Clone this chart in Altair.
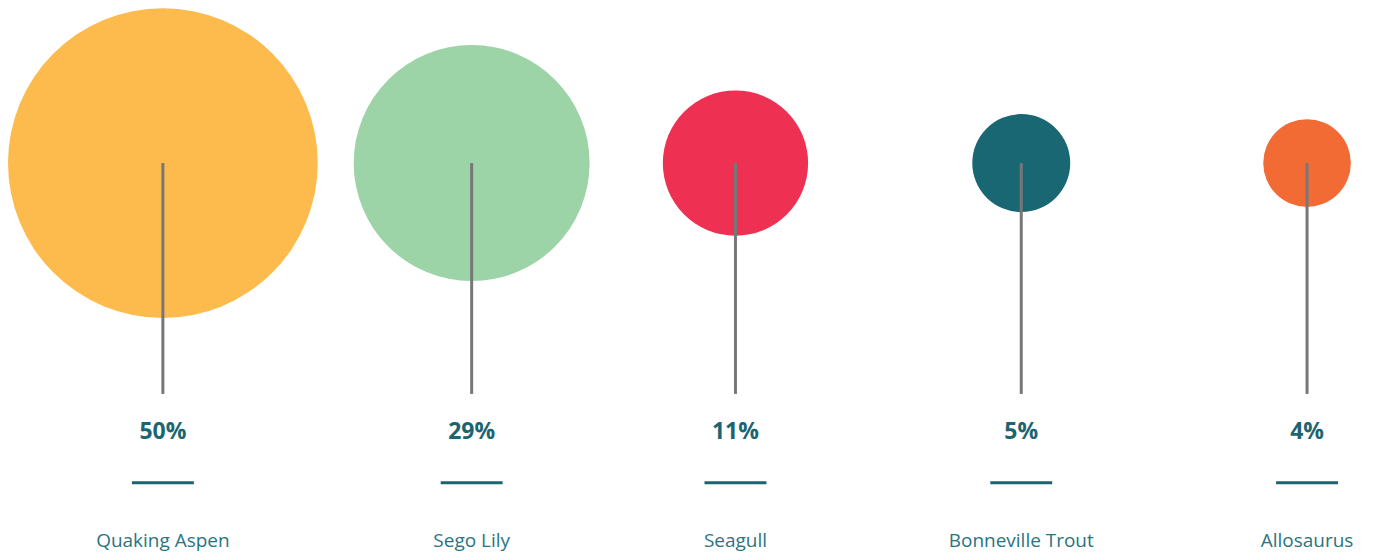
import altair as alt
import pandas as pd

categories = ["Quaking Aspen", "Sego Lily", "Seagull", "Bonneville Trout", "Allosaurus"]
values = [50, 29, 11, 5, 4]
labels = ["50%", "29%", "11%", "5%", "4%"]
colors = ["#FCBB4C", "#9DD4A7", "#EE3053", "#186773", "#F26B35"]

df = pd.DataFrame({"cat": categories, "value": values, "label": labels})

base = alt.Chart(df).transform_window(idx="row_number()")

xscale = alt.Scale(domain=[1, 2, 3, 4, 5], range=[154, 463, 727, 1013, 1299], type="linear")
X = alt.X("idx:Q", scale=xscale, axis=None)

circles = base.mark_circle(opacity=1).encode(
    x=X,
    y=alt.value(154),
    size=alt.Size("value:Q", scale=alt.Scale(domain=[0, 50], range=[0, 96100]), legend=None),
    color=alt.Color("cat:N", scale=alt.Scale(domain=categories, range=colors), legend=None),
)

stems = base.mark_rule(color="#777777", strokeWidth=3).encode(
    x=X, y=alt.value(154), y2=alt.value(385)
)

pct = base.mark_text(
    font="Open Sans", fontSize=23, fontWeight="bold", color="#1B6570", baseline="middle"
).encode(x=X, y=alt.value(423), text="label:N")

under = base.mark_tick(
    orient="horizontal", size=62, thickness=3, color="#1B6570", opacity=1
).encode(x=X, y=alt.value(474))

names = base.mark_text(
    font="Open Sans", fontSize=19, color="#2A7480", baseline="alphabetic"
).encode(x=X, y=alt.value(538), text="cat:N")

chart = alt.layer(circles, stems, pct, under, names).properties(
    width=1360, height=544, padding=0
).configure_view(stroke=None)

chart.save("out.html", embed_options={"renderer": "svg", "actions": False})
